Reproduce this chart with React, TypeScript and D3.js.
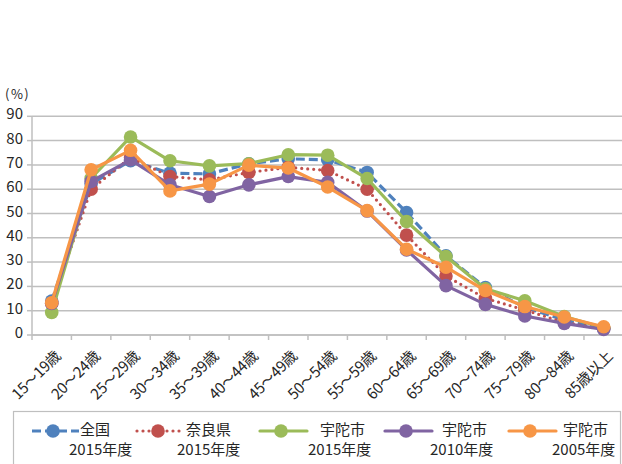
import React from "react";
import * as d3 from "d3";

const categories = [
  "15～19歳", "20～24歳", "25～29歳", "30～34歳", "35～39歳",
  "40～44歳", "45～49歳", "50～54歳", "55～59歳", "60～64歳",
  "65～69歳", "70～74歳", "75～79歳", "80～84歳", "85歳以上",
];

const zenkoku2015 = [14.0, 62.2, 71.7, 66.6, 66.3, 70.5, 72.5, 72.1, 66.9, 50.4, 32.6, 19.5, 11.4, 6.2, 2.7];
const nara2015 = [13.0, 60.0, 73.0, 65.2, 63.9, 66.9, 69.0, 67.7, 60.0, 41.1, 24.3, 15.1, 10.3, 5.1, 2.7];
const uda2015 = [9.3, 64.5, 81.5, 71.7, 69.6, 70.5, 74.2, 74.0, 64.4, 46.7, 32.3, 19.0, 14.1, 7.6, 3.0];
const uda2010 = [13.0, 63.2, 72.1, 61.8, 57.0, 61.8, 65.2, 62.8, 51.0, 35.0, 20.3, 12.6, 7.8, 4.8, 2.3];
const uda2005 = [13.3, 68.0, 76.0, 59.3, 62.1, 69.9, 68.7, 60.9, 51.2, 35.3, 27.9, 18.3, 11.7, 7.4, 3.4];

const yTicks = [0, 10, 20, 30, 40, 50, 60, 70, 80, 90];

const seriesNames = [
  ["全国", "2015年度"],
  ["奈良県", "2015年度"],
  ["宇陀市", "2015年度"],
  ["宇陀市", "2010年度"],
  ["宇陀市", "2005年度"],
];
const seriesValues = [zenkoku2015, nara2015, uda2015, uda2010, uda2005];

const COLORS = ["#4f81bd", "#c0504d", "#9bbb59", "#8064a2", "#f79646"];
const DASH = ["9 4", "0 6", null, null, null];
const CAP = ["butt", "round", "round", "round", "round"];

// legend layout: [line start x, first-line text x, second-line text x]
const legendLayout = [
  [32, 80, 69],
  [137, 186, 177],
  [260, 320, 308],
  [385, 442, 430],
  [509, 563, 552],
];

const FONT = "'Noto Sans CJK JP', 'Noto Sans', sans-serif";
const TEXT = "#262626";

export default function App() {
  const W = 622, H = 464;
  const left = 32, right = 623.4, top = 116.3, bottom = 335;

  const x = d3.scaleBand<string>().domain(categories).range([left, right]).padding(0);
  const bw = x.bandwidth();
  const cx = (c: string) => (x(c) as number) + bw / 2;
  const y = d3.scaleLinear().domain([0, 90]).range([bottom, top]);

  const line = d3
    .line<number>()
    .x((_, i) => cx(categories[i]))
    .y((v) => y(v));

  const tickXs = d3.range(categories.length + 1).map((i) => left + i * bw);

  return (
    <div style={{ position: "absolute", left: 0, top: 0 }}>
      <svg width={W} height={H} style={{ display: "block", fontFamily: FONT }}>
        <rect x={0} y={0} width={W} height={H} fill="#fff" />
        {/* gridlines */}
        {yTicks.map((t) => (
          <line key={t} x1={left} x2={W} y1={y(t)} y2={y(t)} stroke="#bfbfbf" strokeWidth={1.5} />
        ))}
        {/* y axis */}
        <line x1={left} x2={left} y1={top} y2={bottom} stroke="#bfbfbf" strokeWidth={1.5} />
        {yTicks.map((t) => (
          <g key={"yt" + t}>
            <line x1={left - 5} x2={left} y1={y(t)} y2={y(t)} stroke="#bfbfbf" strokeWidth={1.5} />
            <text x={23} y={y(t) - 1} textAnchor="end" dominantBaseline="middle" fontSize={15} fill={TEXT}>
              {t}
            </text>
          </g>
        ))}
        <text x={5} y={95} dominantBaseline="middle" fontSize={13} fill={TEXT} letterSpacing={1.5}>
          (%)
        </text>
        {/* x axis */}
        <line x1={left} x2={W} y1={bottom} y2={bottom} stroke="#bfbfbf" strokeWidth={1.5} />
        {tickXs.map((tx, i) => (
          <line key={"xt" + i} x1={tx} x2={tx} y1={bottom} y2={bottom + 5} stroke="#bfbfbf" strokeWidth={1.5} />
        ))}
        {categories.map((c) => (
          <text
            key={c}
            transform={`translate(${cx(c) + 10},${357}) rotate(-45)`}
            textAnchor="end"
            fontSize={15}
            letterSpacing={-0.3}
            fill={TEXT}
          >
            {c}
          </text>
        ))}
        {/* series */}
        {seriesValues.map((vals, si) => (
          <g key={"s" + si}>
            <path
              d={line(vals) as string}
              fill="none"
              stroke={COLORS[si]}
              strokeWidth={3.2}
              strokeDasharray={DASH[si] ?? undefined}
              strokeLinecap={CAP[si] as any}
              strokeLinejoin="round"
            />
            {vals.map((v, i) => (
              <circle key={i} cx={cx(categories[i])} cy={y(v)} r={6.8} fill={COLORS[si]} />
            ))}
          </g>
        ))}
        {/* legend */}
        <rect x={13.5} y={411.5} width={607} height={70} fill="none" stroke="#bfbfbf" strokeWidth={1.2} />
        {seriesNames.map((nm, si) => {
          const [lx, t1, t2] = legendLayout[si];
          const ly = 431;
          return (
            <g key={"lg" + si}>
              <line
                x1={lx}
                x2={lx + 47}
                y1={ly}
                y2={ly}
                stroke={COLORS[si]}
                strokeWidth={3.2}
                strokeDasharray={DASH[si] ?? undefined}
                strokeLinecap={CAP[si] as any}
              />
              <circle cx={lx + 21} cy={ly} r={6.8} fill={COLORS[si]} />
              <text x={t1} y={ly} dominantBaseline="middle" fontSize={15} fill={TEXT}>
                {nm[0]}
              </text>
              <text x={t2} y={ly + 20} dominantBaseline="middle" fontSize={15} fill={TEXT}>
                {nm[1]}
              </text>
            </g>
          );
        })}
      </svg>
    </div>
  );
}
